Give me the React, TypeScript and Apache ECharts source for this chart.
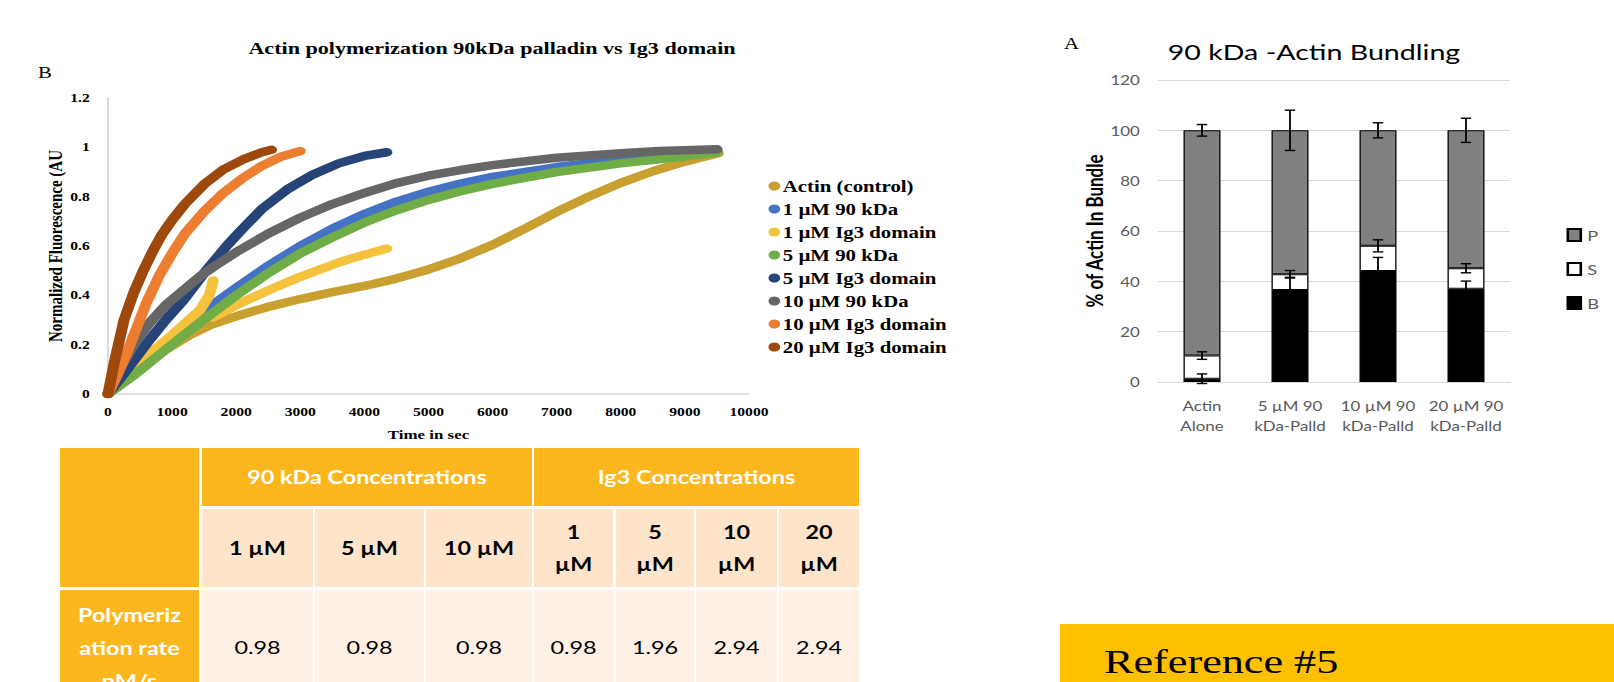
import React, { useEffect, useRef } from "react";
import * as echarts from "echarts";

// ---------- data: polymerization curves (time s, normalized fluorescence) ----------
const seriesNames = [
  "Actin (control)",
  "1 µM 90 kDa",
  "1 µM Ig3 domain",
  "5 µM 90 kDa",
  "5 µM Ig3 domain",
  "10 µM 90 kDa",
  "10 µM Ig3 domain",
  "20 µM Ig3 domain",
];
const seriesColors = ["#C9A030", "#4472C4", "#F4C23C", "#70AD47", "#264478", "#666666", "#ED7D31", "#9E480E"];

const actinControl: (number | string)[][] = [
  [0, 0], [300, 0.06], [600, 0.12], [900, 0.18], [1280, 0.24], [1600, 0.28], [2000, 0.315], [2480, 0.352],
  [3000, 0.385], [3500, 0.413], [4000, 0.438], [4500, 0.468], [5000, 0.505], [5500, 0.55], [6000, 0.605],
  [6500, 0.67], [7000, 0.738], [7500, 0.8], [8000, 0.856], [8500, 0.903], [9000, 0.942], [9520, 0.976],
];
const kDa90_1: (number | string)[][] = [
  [0, 0], [400, 0.1], [900, 0.215], [1435, 0.325], [2000, 0.43], [2500, 0.52], [3000, 0.6], [3500, 0.67],
  [4000, 0.73], [4500, 0.78], [5000, 0.82], [5500, 0.853], [6000, 0.88], [7000, 0.92], [8000, 0.95], [9000, 0.974], [9500, 0.985],
];
const ig3_1: (number | string)[][] = [
  [0, 0], [395, 0.11], [915, 0.22], [1435, 0.34], [1580, 0.4], [1640, 0.46], [1640, "-"],
  [1640, 0.31], [2000, 0.36], [2500, 0.42], [3000, 0.475], [3620, 0.535], [4000, 0.565], [4350, 0.59],
];
const kDa90_5: (number | string)[][] = [
  [0, 0], [395, 0.074], [900, 0.18], [1435, 0.29], [2000, 0.4], [2500, 0.49], [3000, 0.57], [3500, 0.635],
  [4000, 0.695], [4500, 0.745], [5000, 0.787], [5500, 0.822], [6000, 0.852], [7000, 0.9], [8000, 0.935], [9000, 0.963], [9500, 0.98],
];
const ig3_5: (number | string)[][] = [
  [0, 0], [300, 0.1], [650, 0.22], [900, 0.3], [1175, 0.38], [1500, 0.49], [1850, 0.6], [2100, 0.67],
  [2400, 0.75], [2800, 0.83], [3200, 0.89], [3600, 0.935], [4000, 0.965], [4350, 0.98],
];
const kDa90_10: (number | string)[][] = [
  [0, 0], [200, 0.11], [400, 0.2], [655, 0.29], [900, 0.36], [1175, 0.42], [1450, 0.48], [1700, 0.525],
  [2000, 0.575], [2500, 0.65], [3000, 0.715], [3500, 0.77], [4000, 0.815], [4500, 0.855], [5000, 0.885],
  [5500, 0.908], [6000, 0.928], [7000, 0.958], [8000, 0.976], [8600, 0.985], [9500, 0.992],
];
const ig3_10: (number | string)[][] = [
  [0, 0], [150, 0.08], [300, 0.17], [450, 0.27], [600, 0.37], [800, 0.48], [1000, 0.57], [1200, 0.65],
  [1500, 0.74], [1800, 0.815], [2100, 0.875], [2400, 0.925], [2700, 0.962], [3000, 0.985],
];
const ig3_20: (number | string)[][] = [
  [0, 0], [100, 0.13], [250, 0.3], [400, 0.41], [550, 0.5], [700, 0.58], [850, 0.65], [1000, 0.705],
  [1200, 0.77], [1500, 0.85], [1800, 0.91], [2100, 0.95], [2400, 0.98], [2550, 0.99],
];
const curveData = [actinControl, kDa90_1, ig3_1, kDa90_5, ig3_5, kDa90_10, ig3_10, ig3_20];

const yTicksLeft = [0, 0.2, 0.4, 0.6, 0.8, 1, 1.2];

// ---------- data: bundling bar chart ----------
const barCategories = ["Actin\nAlone", "5 µM 90\nkDa-Palld", "10 µM 90\nkDa-Palld", "20 µM 90\nkDa-Palld"];
const valB = [1.3, 36.6, 44.1, 37.1];
const valS = [9.2, 6.2, 10.0, 8.1];
const valP = [89.5, 57.2, 45.9, 54.8];
const errB = [1.9, 5.0, 5.4, 3.0];
const errS = [1.5, 1.5, 2.4, 1.8];
const errP = [2.3, 8.0, 3.0, 4.8];

// ---------- data: table ----------
const tableGroups = ["90 kDa Concentrations", "Ig3 Concentrations"];
const concLabels = ["1 µM", "5 µM", "10 µM", "1\nµM", "5\nµM", "10\nµM", "20\nµM"];
const rowLabel = "Polymeriz\nation rate\nnM/s";
const rates = [0.98, 0.98, 0.98, 0.98, 1.96, 2.94, 2.94];

const refText = "Reference #5";

// ---------- layout ----------
const SX = 1.3;
const W = 1614 / SX;
const ux = (x: number) => x / SX;
const SERIF = "'Liberation Serif', 'Times New Roman', serif";
const SANS = "Lato, 'Open Sans', sans-serif";

export default function App() {
  const ref = useRef<HTMLDivElement>(null);
  useEffect(() => {
    if (!ref.current) return;
    const chart = echarts.init(ref.current, undefined, { renderer: "svg" });

    const lineSeries = curveData.map((d, i) => ({
      type: "line",
      name: seriesNames[i],
      xAxisIndex: 0,
      yAxisIndex: 0,
      data: d,
      symbol: "none",
      smooth: false,
      color: seriesColors[i],
      lineStyle: { width: 8.5, color: seriesColors[i], cap: "round", join: "round" },
      z: 2 + i,
    }));

    const barBase = { type: "bar", xAxisIndex: 1, yAxisIndex: 1, stack: "bund", barWidth: ux(37) };
    const barSeries = [
      { ...barBase, name: "B", data: valB, itemStyle: { color: "#000000", borderColor: "#000", borderWidth: 1 } },
      { ...barBase, name: "S", data: valS, itemStyle: { color: "#ffffff", borderColor: "#000", borderWidth: 1 } },
      { ...barBase, name: "P", data: valP, itemStyle: { color: "#808080", borderColor: "#000", borderWidth: 1 } },
    ];
    const errData: number[][] = [];
    barCategories.forEach((_, i) => {
      errData.push([i, valB[i], errB[i]]);
      errData.push([i, valB[i] + valS[i], errS[i]]);
      errData.push([i, valB[i] + valS[i] + valP[i], errP[i]]);
    });
    const errSeries = {
      type: "custom",
      name: "err",
      xAxisIndex: 1,
      yAxisIndex: 1,
      data: errData,
      z: 10,
      renderItem: (params: any, api: any) => {
        const c = api.value(0);
        const v = api.value(1);
        const e = api.value(2);
        const t = api.coord([c, v + e]);
        const b = api.coord([c, v - e]);
        const hw = 4;
        const st = { stroke: "#000", lineWidth: 1.4 };
        return {
          type: "group",
          children: [
            { type: "line", shape: { x1: t[0], y1: t[1], x2: b[0], y2: b[1] }, style: st },
            { type: "line", shape: { x1: t[0] - hw, y1: t[1], x2: t[0] + hw, y2: t[1] }, style: st },
            { type: "line", shape: { x1: b[0] - hw, y1: b[1], x2: b[0] + hw, y2: b[1] }, style: st },
          ],
        };
      },
    };

    // table graphics
    const cols = [[60, 199], [202, 313], [315, 424], [426, 532], [534, 613], [616, 694], [696, 777], [779, 859]];
    const rows = [[448, 506], [509, 587], [590, 700]];
    const ORANGE = "#FCB71E";
    const PEACH = "#FDE4CB";
    const LIGHT = "#FEF0E5";
    const rect = (x1: number, x2: number, y1: number, y2: number, fill: string) => ({
      type: "rect",
      shape: { x: ux(x1), y: y1, width: ux(x2 - x1), height: y2 - y1 },
      style: { fill },
      silent: true,
    });
    const txt = (cx: number, cy: number, text: string, size: number, weight: string, fill: string, lh: number, family = SANS) => ({
      type: "text",
      x: ux(cx),
      y: cy,
      style: { text, fill, font: `${weight} ${size}px ${family}`, align: "center", verticalAlign: "middle", lineHeight: lh },
      silent: true,
    });
    const tableEls: any[] = [];
    tableEls.push(rect(cols[0][0], cols[0][1], rows[0][0], rows[1][1], ORANGE));
    tableEls.push(rect(cols[1][0], cols[3][1], rows[0][0], rows[0][1], ORANGE));
    tableEls.push(rect(cols[4][0], cols[7][1], rows[0][0], rows[0][1], ORANGE));
    tableEls.push(rect(cols[0][0], cols[0][1], rows[2][0], rows[2][1], ORANGE));
    for (let c = 1; c < cols.length; c++) {
      tableEls.push(rect(cols[c][0], cols[c][1], rows[1][0], rows[1][1], PEACH));
      tableEls.push(rect(cols[c][0], cols[c][1], rows[2][0], rows[2][1], LIGHT));
    }
    tableEls.push(txt((cols[1][0] + cols[3][1]) / 2, 477, tableGroups[0], 18, "bold", "#ffffff", 22));
    tableEls.push(txt((cols[4][0] + cols[7][1]) / 2, 477, tableGroups[1], 18, "bold", "#ffffff", 22));
    concLabels.forEach((l, i) => {
      const c = cols[i + 1];
      tableEls.push(txt((c[0] + c[1]) / 2, 548, l, 18, "bold", "#000000", 32));
    });
    rates.forEach((r, i) => {
      const c = cols[i + 1];
      tableEls.push(txt((c[0] + c[1]) / 2, 647, r.toFixed(2), 18, "normal", "#000000", 22));
    });
    tableEls.push(txt((cols[0][0] + cols[0][1]) / 2, 648, rowLabel, 18, "bold", "#ffffff", 33));

    const option: any = {
      animation: false,
      backgroundColor: "#ffffff",
      grid: [
        { left: ux(108), top: 98, width: ux(641), height: 296 },
        { left: ux(1158), top: 80, width: ux(352), height: 302 },
      ],
      xAxis: [
        {
          type: "value",
          gridIndex: 0,
          min: 0,
          max: 10000,
          interval: 1000,
          axisLine: { show: true, lineStyle: { color: "#d9d9d9", width: 1.5 } },
          axisTick: { show: false },
          splitLine: { show: false },
          axisLabel: {
            color: "#000",
            fontFamily: SERIF,
            fontWeight: "bold",
            fontSize: 12,
            margin: 12,
            formatter: (v: number) => String(v),
          },
          name: "Time in sec",
          nameLocation: "middle",
          nameGap: 34,
          nameTextStyle: { color: "#000", fontFamily: SERIF, fontWeight: "bold", fontSize: 13 },
        },
        {
          type: "category",
          gridIndex: 1,
          data: barCategories,
          axisLine: { show: true, lineStyle: { color: "#d9d9d9" } },
          axisTick: { show: false },
          axisLabel: { color: "#595959", fontFamily: SANS, fontSize: 13, lineHeight: 20, margin: 14, interval: 0 },
        },
      ],
      yAxis: [
        {
          type: "value",
          gridIndex: 0,
          min: 0,
          max: 1.2,
          interval: 0.2,
          axisLine: { show: true, lineStyle: { color: "#d9d9d9", width: 1.5 } },
          axisTick: { show: false },
          splitLine: { show: false },
          axisLabel: {
            color: "#000",
            fontFamily: SERIF,
            fontWeight: "bold",
            fontSize: 12,
            margin: 14,
            formatter: (v: number) => {
              const m = yTicksLeft.find((t) => Math.abs(t - v) < 1e-6);
              return String(m !== undefined ? m : Math.round(v * 10) / 10);
            },
          },
          name: "Normalized Fluorescence (AU",
          nameLocation: "middle",
          nameGap: 30,
          nameTextStyle: { color: "#000", fontFamily: SERIF, fontWeight: "bold", fontSize: 15 },
        },
        {
          type: "value",
          gridIndex: 1,
          min: 0,
          max: 120,
          interval: 20,
          axisLine: { show: false },
          axisTick: { show: false },
          splitLine: { show: true, lineStyle: { color: "#d9d9d9" } },
          axisLabel: { color: "#595959", fontFamily: SANS, fontSize: 13, margin: 14 },
          name: "% of Actin In Bundle",
          nameLocation: "middle",
          nameGap: 35,
          nameTextStyle: { color: "#000", fontFamily: SANS, fontWeight: "bold", fontSize: 17 },
        },
      ],
      legend: [
        {
          data: seriesNames,
          orient: "vertical",
          left: ux(762),
          top: 173,
          icon: "circle",
          itemWidth: 9,
          itemHeight: 9,
          itemGap: 7,
          textStyle: { color: "#000", fontFamily: SERIF, fontWeight: "bold", fontSize: 16, padding: [0, 0, 0, -3] },
          selectedMode: false,
        },
        {
          data: ["P", "S", "B"],
          orient: "vertical",
          left: ux(1560),
          top: 223,
          icon: "rect",
          itemWidth: 10,
          itemHeight: 12,
          itemGap: 20,
          textStyle: { color: "#595959", fontFamily: SANS, fontSize: 14 },
          selectedMode: false,
        },
      ],
      series: [...lineSeries, ...barSeries, errSeries],
      graphic: [
        {
          type: "text",
          x: ux(492),
          y: 48,
          style: { text: "Actin polymerization 90kDa palladin vs Ig3 domain", font: `bold 17px ${SERIF}`, fill: "#000", align: "center", verticalAlign: "middle" },
        },
        { type: "text", x: ux(38), y: 72, style: { text: "B", font: `16px ${SERIF}`, fill: "#000", verticalAlign: "middle" } },
        { type: "text", x: ux(1064), y: 43, style: { text: "A", font: `16px ${SERIF}`, fill: "#000", verticalAlign: "middle" } },
        {
          type: "text",
          x: ux(1314),
          y: 51,
          style: { text: "90 kDa -Actin Bundling", font: `22px ${SANS}`, fill: "#000", align: "center", verticalAlign: "middle" },
        },
        ...tableEls,
        rect(1060, 1614, 624, 700, "#FFC000"),
        {
          type: "text",
          x: ux(1104),
          y: 679,
          style: { text: refText, font: `34px ${SERIF}`, fill: "#000", verticalAlign: "bottom" },
        },
      ],
    };
    chart.setOption(option);
    return () => chart.dispose();
  }, []);

  return (
    <div
      style={{
        position: "fixed",
        left: 0,
        top: 0,
        width: 1614,
        height: 682,
        overflow: "hidden",
        background: "#fff",
      }}
    >
      <div
        ref={ref}
        style={{
          width: W,
          height: 682,
          transform: `scaleX(${SX})`,
          transformOrigin: "0 0",
        }}
      />
    </div>
  );
}
